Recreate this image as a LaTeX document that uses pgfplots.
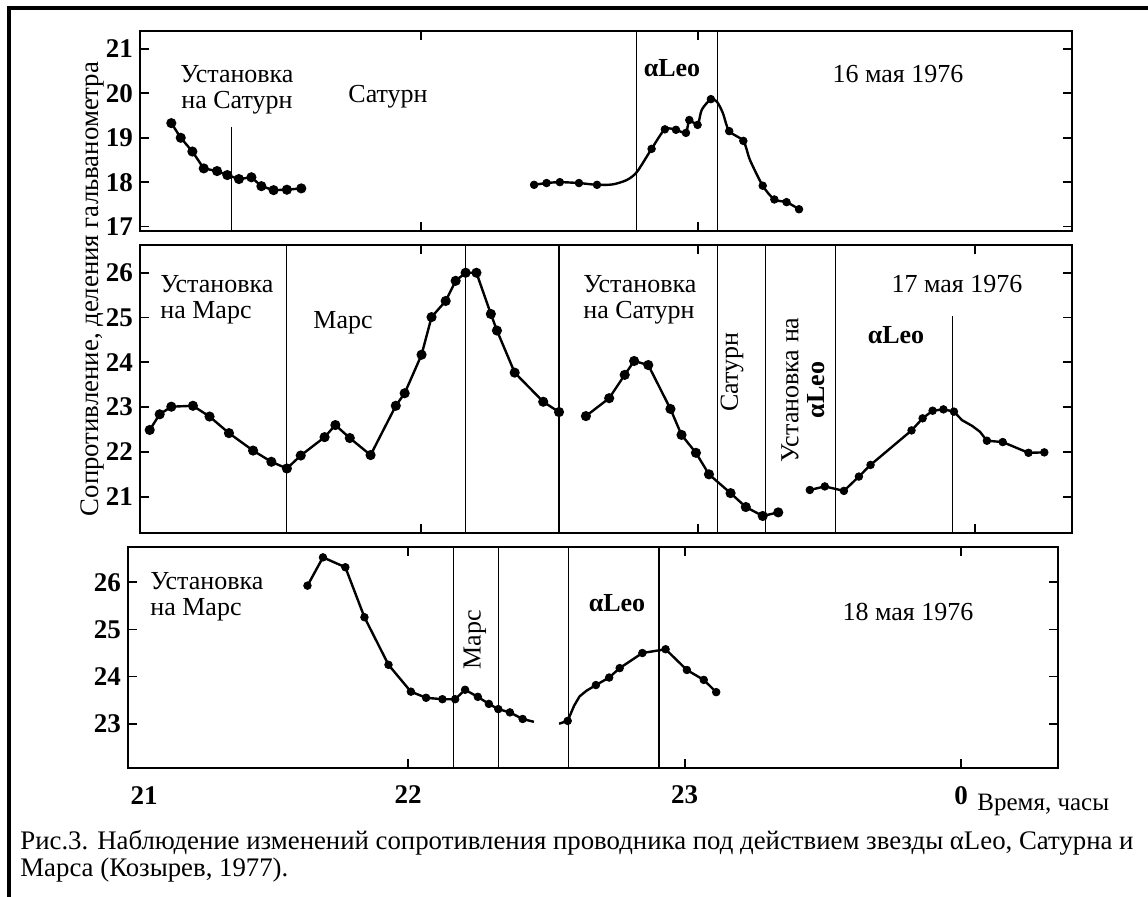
\documentclass[border=0pt]{standalone}
\usepackage{fontspec}
\setmainfont{Liberation Serif}
\usepackage{pgfplots}
\pgfplotsset{compat=1.18}

% common look of the three day panels
\pgfplotsset{
  panel/.style={
    scale only axis, anchor=south west,
    xmin=20.987, xmax=24.35,
    tick align=inside, tick pos=both, ticklabel pos=left,
    major tick length=4.5pt,
    axis line style={line width=1.3pt},
    major tick style={line width=0.9pt, black},
    tick label style={font=\fontsize{13.5}{15}\selectfont\bfseries},
    /pgf/number format/assume math mode=true,
    xticklabels={},
  },
  dat/.style={black, line width=1.2pt, mark=none},
  dots/.style={black, only marks, mark=*, mark size=1.9pt},
  vline/.style={black, line width=0.55pt, mark=none, forget plot},
}
\newcommand\tf{\fontsize{13}{13}\selectfont}

\begin{document}
\begin{tikzpicture}
\useasboundingbox (0,0) rectangle (574pt,448pt);

% ---- 16 May 1976
\begin{axis}[panel, at={(70pt,332.5pt)}, width=466pt, height=100pt,
  ymin=16.9, ymax=21.405, ytick={17,...,21}, xtick={22,23}]
\addplot[vline] coordinates {(21.318,16.9) (21.318,19.24)};
\addplot[vline] coordinates {(22.780,16.9) (22.780,21.405)};
\addplot[vline] coordinates {(23.072,16.9) (23.072,21.405)};
\addplot[dat, mark=*, mark size=1.9pt] coordinates {
(21.100,19.33) (21.134,19.00) (21.176,18.69) (21.217,18.31) (21.265,18.25)
(21.302,18.16) (21.344,18.07) (21.389,18.11) (21.425,17.91) (21.469,17.82)
(21.517,17.83) (21.569,17.86)};
\addplot[dat, smooth, tension=0.45] coordinates {
(22.409,17.94) (22.454,17.98) (22.502,18.00) (22.571,17.98) (22.636,17.94)
(22.693,17.95) (22.744,18.05) (22.780,18.23) (22.833,18.75) (22.881,19.19)
(22.921,19.18) (22.957,19.11) (22.969,19.40) (22.999,19.29) (23.014,19.63)
(23.047,19.87) (23.069,19.81) (23.090,19.56) (23.113,19.15) (23.164,18.93)
(23.188,18.50) (23.234,17.92) (23.276,17.61) (23.320,17.55) (23.365,17.39)};
\addplot[dots] coordinates {
(22.409,17.94) (22.454,17.98) (22.502,18.00) (22.571,17.98) (22.636,17.94)
(22.833,18.75) (22.881,19.19) (22.921,19.18) (22.957,19.11) (22.969,19.40)
(22.999,19.29) (23.047,19.87) (23.113,19.15) (23.164,18.93) (23.234,17.92)
(23.276,17.61) (23.320,17.55) (23.365,17.39)};
\end{axis}

% ---- 17 May 1976
\begin{axis}[panel, at={(70pt,181.5pt)}, width=466pt, height=144pt,
  ymin=20.19, ymax=26.62, ytick={21,...,26}, xtick={22,23,24}]
\addplot[vline] coordinates {(21.517,20.19) (21.517,26.62)};
\addplot[vline] coordinates {(22.162,20.19) (22.162,26.62)};
\addplot[vline] coordinates {(22.499,20.19) (22.499,26.62)};
\addplot[vline] coordinates {(23.071,20.19) (23.071,26.62)};
\addplot[vline] coordinates {(23.244,20.19) (23.244,26.62)};
\addplot[vline] coordinates {(23.495,20.19) (23.495,26.62)};
\addplot[vline] coordinates {(23.919,20.19) (23.919,25.04)};
\addplot[dat, mark=*, mark size=1.9pt] coordinates {
(21.022,22.49) (21.058,22.84) (21.100,23.01) (21.178,23.03) (21.238,22.79)
(21.308,22.42) (21.395,22.03) (21.461,21.78) (21.517,21.63) (21.567,21.92)
(21.653,22.33) (21.692,22.60) (21.744,22.31) (21.819,21.93) (21.910,23.03)
(21.942,23.31) (22.003,24.17) (22.039,25.01) (22.090,25.37) (22.126,25.82)
(22.162,26.00) (22.201,26.00) (22.253,25.08) (22.275,24.71) (22.339,23.77)
(22.442,23.12) (22.499,22.89)};
\addplot[dat, mark=*, mark size=1.9pt] coordinates {
(22.596,22.80) (22.680,23.20) (22.736,23.72) (22.770,24.03) (22.821,23.94)
(22.901,22.96) (22.941,22.38) (22.993,21.98) (23.040,21.50) (23.118,21.08)
(23.173,20.77) (23.234,20.57) (23.290,20.65)};
\addplot[dat] coordinates {
(23.404,21.15) (23.458,21.23) (23.527,21.13) (23.581,21.45) (23.623,21.71)
(23.771,22.48) (23.811,22.75) (23.847,22.92) (23.886,22.95) (23.924,22.90)
(23.953,22.71) (23.990,22.58) (24.018,22.45) (24.043,22.25) (24.100,22.22)
(24.193,21.98) (24.250,21.99)};
\addplot[dots] coordinates {
(23.404,21.15) (23.458,21.23) (23.527,21.13) (23.581,21.45) (23.623,21.71)
(23.771,22.48) (23.811,22.75) (23.847,22.92) (23.886,22.95) (23.924,22.90)
(24.043,22.25) (24.100,22.22) (24.193,21.98) (24.250,21.99)};
\end{axis}

% ---- 18 May 1976
\begin{axis}[panel, at={(64pt,64pt)}, width=465pt, height=110.5pt,
  ymin=22.06, ymax=26.75, ytick={23,...,26}, xtick={22,23,24},
  xticklabels={22,23,0}, xticklabel style={yshift=-5.5pt}]
\addplot[vline] coordinates {(22.164,22.06) (22.164,26.75)};
\addplot[vline] coordinates {(22.326,22.06) (22.326,26.75)};
\addplot[vline] coordinates {(22.580,22.06) (22.580,26.75)};
\addplot[vline] coordinates {(22.907,22.06) (22.907,26.75)};
\addplot[dat] coordinates {
(21.636,25.93) (21.692,26.53) (21.773,26.32) (21.842,25.26) (21.929,24.25)
(22.010,23.68) (22.065,23.55) (22.124,23.52) (22.170,23.52) (22.206,23.72)
(22.252,23.57) (22.292,23.42) (22.326,23.31) (22.368,23.24) (22.414,23.10)
(22.455,23.04)};
\addplot[dots] coordinates {
(21.636,25.93) (21.692,26.53) (21.773,26.32) (21.842,25.26) (21.929,24.25)
(22.010,23.68) (22.065,23.55) (22.124,23.52) (22.170,23.52) (22.206,23.72)
(22.252,23.57) (22.292,23.42) (22.326,23.31) (22.368,23.24) (22.414,23.10)};
\addplot[dat] coordinates {
(22.546,23.00) (22.577,23.06) (22.600,23.38) (22.620,23.58) (22.645,23.70)
(22.679,23.82) (22.727,23.98) (22.765,24.18) (22.847,24.50) (22.931,24.58)
(23.008,24.14) (23.069,23.93) (23.114,23.67)};
\addplot[dots] coordinates {
(22.577,23.06) (22.679,23.82) (22.727,23.98) (22.765,24.18) (22.847,24.50)
(22.931,24.58) (23.008,24.14) (23.069,23.93) (23.114,23.67)};
\end{axis}

% ---- texts, placed in pixel units of the reference
\begin{scope}[yshift=448pt, x=0.5pt, y=-0.5pt, every node/.style={font=\tf, inner sep=0pt}]
\draw[line width=2pt] (9,1000) -- (9,8) -- (1200,8);
% panel 1
\node[align=center] at (237,90) {Установка\\на Сатурн};
\node at (388,97) {Сатурн};
\node at (672,68) {\bfseries αLeo};
\node at (898,74) {16 мая 1976};
% panel 2
\node[align=left, anchor=west] at (160,300) {Установка\\на Марс};
\node at (343,323) {Марс};
\node[align=left, anchor=west] at (583,300) {Установка\\на Сатурн};
\node[rotate=90] at (732,372) {Сатурн};
\node[rotate=90, align=center] at (803,390) {Установка на\\\bfseries αLeo};
\node at (957,284) {17 мая 1976};
\node at (896,335) {\bfseries αLeo};
% panel 3
\node[align=left, anchor=west] at (150,597) {Установка\\на Марс};
\node[rotate=90] at (475,640) {Марс};
\node at (617,603) {\bfseries αLeo};
\node at (908,612) {18 мая 1976};
% axis texts
\node[rotate=90, font=\fontsize{13.4}{14}\selectfont] at (92,289) {Сопротивление, деления гальванометра};
\node[font=\fontsize{13.5}{15}\selectfont\bfseries] at (144,796) {21};
\node[anchor=west, font=\fontsize{12.5}{13}\selectfont] at (977,805) {Время, часы};
\node[anchor=west, font=\fontsize{13.4}{14}\selectfont] at (20,843) {Рис.3. Наблюдение изменений сопротивления проводника под действием звезды αLeo, Сатурна и};
\node[anchor=west, font=\fontsize{13.4}{14}\selectfont] at (20,870) {Марса (Козырев, 1977).};
\end{scope}
\end{tikzpicture}
\end{document}
